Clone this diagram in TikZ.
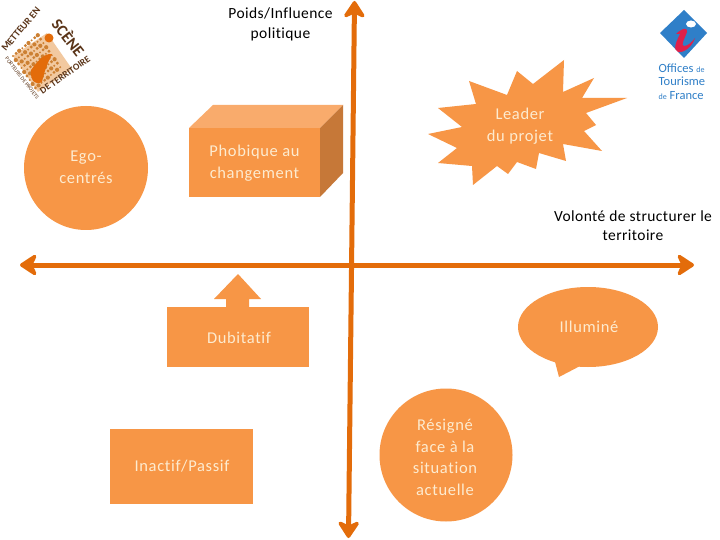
\documentclass[tikz,border=0pt]{standalone}
\usepackage{fontspec}
\setmainfont{Carlito}
\newfontfamily\lblfont[LetterSpace=4,Ligatures=CommonOff]{Carlito}
\newfontfamily\blkfont[LetterSpace=2.8,Ligatures=CommonOff]{Carlito}
\usetikzlibrary{arrows.meta}
\definecolor{fillor}{HTML}{F79646}
\definecolor{axisor}{HTML}{E36C0A}
\definecolor{boxtop}{HTML}{F9AB6C}
\definecolor{boxside}{HTML}{C67838}
\definecolor{lightxt}{HTML}{FDEBD0}
\definecolor{logoblue}{HTML}{2F7FC8}
\definecolor{logored}{HTML}{E0204A}
\definecolor{logodark}{HTML}{5A3418}
\definecolor{mosaic}{HTML}{F2C9A0}
\tikzset{
 x=1pt,y=-1pt,
 shapefill/.style={fill=fillor,draw=none},
 lbl/.style={font=\lblfont\fontsize{16.5}{21.7}\selectfont,text=lightxt,align=center,inner sep=0pt},
 blacklbl/.style={font=\blkfont\fontsize{15.5}{19.5}\selectfont,text=black,align=center,inner sep=0pt},
 axisline/.style={draw=axisor,line width=5pt,{Stealth[length=20pt,width=26pt,inset=6pt,round]}-{Stealth[length=20pt,width=26pt,inset=6pt,round]}},
 logotext/.style={text=logodark,inner sep=0pt},
}
\begin{document}
\begin{tikzpicture}
\useasboundingbox (0,0) rectangle (720,540);
\fill[white] (0,0) rectangle (720,540);
% axes
\coordinate (vtop) at (354.5,1);
\coordinate (vbot) at (348.5,538);
\coordinate (hleft) at (20,265);
\coordinate (hright) at (694,265);
\draw[axisline] (hleft) -- (hright);
\draw[axisline] (vtop) -- (vbot);
% shapes
\node[shapefill,circle,minimum size=124pt,inner sep=0pt] (ego) at (86,168) {};
\node[lbl] at (86,167.5) {Ego-\\centrés};
% box
\fill[boxtop] (189,128) -- (213,105) -- (343,105) -- (320,128) -- cycle;
\fill[boxside] (320,128) -- (343,105) -- (343,173) -- (320,197) -- cycle;
\node[shapefill,minimum width=131pt,minimum height=69pt,inner sep=0pt] (phob) at (254.5,162.5) {};
\node[lbl] at (254.5,163.5) {Phobique au\\changement};
% star
\fill[fillor] (564,60) -- (563,92) -- (594,78) -- (582,98) -- (627,98) -- (586,113) -- (596,125) -- (584,131) -- (602,151) -- (563,144) -- (566,161) -- (539,153) -- (536,169) -- (517,162) -- (508,174) -- (497,166) -- (473,185) -- (472,166) -- (438,163) -- (457,148) -- (428,134) -- (462,127) -- (438,108) -- (476,104) -- (469,81) -- (507,95) -- (517,71) -- (533,84) -- cycle;
\node[lbl] (leader) at (520,126.5) {Leader\\du projet};
% dubitatif
\fill[fillor] (238,274) -- (261,299) -- (249,299) -- (249,307) -- (226,307) -- (226,299) -- (214,299) -- cycle;
\node[shapefill,minimum width=142pt,minimum height=60pt,inner sep=0pt] (dub) at (238,337) {};
\node[lbl] at (239,338) {Dubitatif};
% inactif
\node[shapefill,minimum width=143pt,minimum height=75pt,inner sep=0pt] (ina) at (181.5,466) {};
\node[lbl] at (182,466) {Inactif/Passif};
% resigne
\node[shapefill,circle,minimum size=133pt,inner sep=0pt] (res) at (446,455) {};
\node[lbl] at (445,457.5) {Résigné\\face à la\\situation\\actuelle};
% illumine
\fill[fillor] (588,327) ellipse [x radius=70, y radius=40];
\fill[fillor] (554,358) -- (559,377) -- (582,365) -- cycle;
\node[lbl] (ill) at (589,327) {Illuminé};
% axis labels
\node[blacklbl] (poids) at (280.5,24.5) {Poids/Influence\\politique};
\node[blacklbl] (vol) at (633,225.5) {Volonté de structurer le\\territoire};
% left logo
\fill[mosaic] (47,33) -- (72,69) -- (38,92) -- (13,56) -- cycle;
\foreach \i in {0,...,8}{\foreach \j in {0,...,8}{
  \pgfmathsetmacro{\px}{13+\i*3.1+\j*2.8}
  \pgfmathsetmacro{\py}{56-\i*2.6+\j*4.0}
  \pgfmathsetmacro{\r}{1.1+0.5*mod(\i+2*\j,3)}
  \fill[brown!80!orange] (\px,\py) circle (\r);
}}
\fill[axisor] (31,70) .. controls (37,62) and (44,53) .. (52,54) .. controls (48,62) and (44,72) .. (42,82) .. controls (35,86) and (30,80) .. (31,70) -- cycle;
\fill[axisor] (49,38) circle (4.5);
\node[logotext,rotate=50,font=\bfseries\fontsize{10}{10}\selectfont] (l1) at (21,29) {METTEUR EN};
\node[logotext,rotate=-52,font=\bfseries\fontsize{16}{16}\selectfont] (l2) at (69,37) {SCÈNE};
\node[logotext,rotate=35,font=\bfseries\fontsize{9.5}{9.5}\selectfont] (l3) at (65,75) {DE TERRITOIRE};
\node[logotext,rotate=-52,font=\fontsize{5.5}{5.5}\selectfont] (l4) at (22,78) {PORTEURS DE PROJETS};
% right logo
\fill[logoblue] (684,10) -- (707,33) -- (684,58) -- (660,33) -- cycle;
\fill[logored] (676,34) .. controls (682,28) and (688,27) .. (687,32) .. controls (685,38) and (680,46) .. (684,46) .. controls (688,46) and (692,42) .. (695,38) .. controls (692,47) and (684,53) .. (678,52) .. controls (672,50) and (677,40) .. (680,34) -- cycle;
\fill[white] (691,24) ellipse [x radius=5, y radius=3.5];
\node[inner sep=0pt,anchor=north west,text=logoblue,font=\fontsize{12.5}{13.5}\selectfont,align=left] (offices) at (658.5,63.5) {Offices {\fontsize{8}{8}\selectfont de}\\Tourisme\\{\fontsize{8}{8}\selectfont de} France};
\end{tikzpicture}
\end{document}
